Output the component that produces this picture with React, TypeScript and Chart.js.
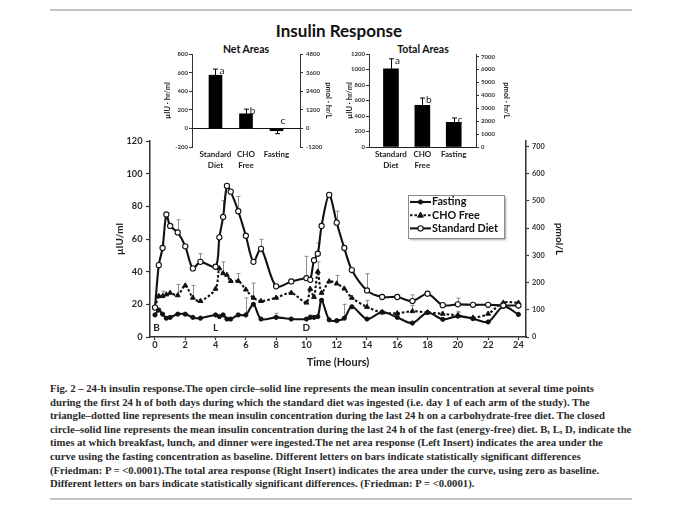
import React, { useEffect, useLayoutEffect, useRef, useState } from 'react';
import { Chart, registerables } from 'chart.js';

Chart.register(...registerables);

const FONT = 'Lato, "Open Sans", sans-serif';

// ---------- main chart data ----------
const HOURS = [0, 0.25, 0.5, 0.75, 1, 1.5, 2, 2.5, 3, 4, 4.25, 4.5, 4.75, 5, 5.5, 6, 6.5, 7, 8, 9, 10, 10.25, 10.5, 10.75, 11, 11.5, 12, 12.5, 13, 14, 15, 16, 17, 18, 19, 20, 21, 22, 23, 24];
const STANDARD_DIET = [18, 44, 54.5, 75, 68, 64, 55.5, 42, 46, 43, 61, 73.5, 92.5, 89, 77, 62, 46, 54, 31, 34, 36, 35, 47, 51, 68, 87, 70, 54.5, 41, 28.5, 24.5, 24.5, 22, 26.5, 19.5, 20, 19.7, 19.7, 19.3, 19.3];
const CHO_FREE = [18, 25, 25, 26, 27, 25.5, 31.5, 24, 22, 29.5, 42, 39, 38, 34.3, 34.3, 29, 24, 22, 24, 27, 21, 29.5, 24.5, 40, 27, 34, 32.7, 29.6, 24, 18.4, 15, 14.5, 15.8, 15, 14.2, 13.2, 11.8, 14.2, 21, 21];
const FASTING = [13.5, 16.5, 14, 11.5, 12, 14, 14, 12, 11.5, 13.5, 12.5, 13.5, 11, 11, 13.5, 13.5, 20, 11, 12, 11, 11, 12, 12, 12.5, 22.5, 10.5, 10, 11.5, 18.5, 11, 15.3, 12, 8.5, 15, 10.8, 12.8, 11.2, 9.2, 18.7, 13.8];
const STANDARD_ERR = [0, 0, 0, 0, 0, 7.8, 0, 0, 5, 0, 0, 10, 0, 0, 9, 0, 0, 5.8, 0, 0, 13.4, 0, 0, 6.5, 0, 0, 7, 0, 0, 10.3, 0, 0, 3.8, 0, 0, 3.8, 0, 0, 0, 0];
const CHO_ERR = [0, 0, 3, 0, 0, 6.7, 0, 7.6, 0, 0, 0, 7, 0, 0, 4.5, 0, 9, 0, 0, 0, 0, 0, 0, 6, 0, 0, 5, 0, 0, 4, 0, 0, 3.5, 0, 0, 2.5, 0, 0, 0, 0];
const FASTING_ERR = [0, 0, 0, 0, 0, 0, 0, 0, 0, 0, 0, 0, 0, 0, 0, 10.4, 0, 0, 2.5, 0, 0, 1.5, 0, 0, 0, 0, 0, 8.5, 0, 0, 0, 0, 0, 0, 0, 2, 0, 0, 0, 0];
const X_TICKS = [0, 2, 4, 6, 8, 10, 12, 14, 16, 18, 20, 22, 24];
const UIU_TICKS = [0, 20, 40, 60, 80, 100, 120];
const PMOL_TICKS = [0, 100, 200, 300, 400, 500, 600, 700];
const MEAL_LABELS = ['B', 'L', 'D'];
const MEAL_HOURS = [0.1, 4, 10];

// ---------- inset data ----------
const BAR_CATEGORIES = [['Standard', 'Diet'], ['CHO', 'Free'], ['Fasting']];
const BAR_POSITIONS = [0, 1, 2];
const SIG_LETTERS = ['a', 'b', 'c'];
const NET_AREAS = [572, 157, -25];
const NET_ERR = [66, 50, -32];
const NET_TICKS = [-200, 0, 200, 400, 600, 800];
const NET_PMOL_TICKS = [-1200, 0, 1200, 2400, 3600, 4800];
const TOTAL_AREAS = [1010, 538, 318];
const TOTAL_ERR = [128, 94, 56];
const TOTAL_TICKS = [0, 200, 400, 600, 800, 1000, 1200];
const TOTAL_PMOL_TICKS = [0, 1000, 2000, 3000, 4000, 5000, 6000, 7000];

const CAPTION_LINES = [
  'Fig. 2 \u2013 24-h insulin response.The open circle\u2013solid line represents the mean insulin concentration at several time points',
  'during the first 24 h of both days during which the standard diet was ingested (i.e. day 1 of each arm of the study). The',
  'triangle\u2013dotted line represents the mean insulin concentration during the last 24 h on a carbohydrate-free diet. The closed',
  'circle\u2013solid line represents the mean insulin concentration during the last 24 h of the fast (energy-free) diet. B, L, D, indicate the',
  'times at which breakfast, lunch, and dinner were ingested.The net area response (Left Insert) indicates the area under the',
  'curve using the fasting concentration as baseline. Different letters on bars indicate statistically significant differences',
  '(Friedman: P = <0.0001).The total area response (Right Insert) indicates the area under the curve, using zero as baseline.',
  'Different letters on bars indicate statistically significant differences. (Friedman: P = <0.0001).',
];

// ---------- plugins ----------
function drawErrors(chart: any, layer: string) {
  const ctx = chart.ctx;
  chart.data.datasets.forEach((ds: any, di: number) => {
    if (!ds.errorBars || (ds.errorLayer || 'above') !== layer) return;
    const meta = chart.getDatasetMeta(di);
    const yScale = chart.scales[meta.yAxisID];
    ctx.save();
    ctx.strokeStyle = ds.errorColor || '#000';
    ctx.lineWidth = ds.errorWidth || 1;
    ctx.setLineDash([]);
    ds.errorBars.forEach((err: number, i: number) => {
      if (!err) return;
      const el = meta.data[i];
      const raw = ds.data[i];
      const v = typeof raw === 'object' ? raw.y : raw;
      const x = Math.round(el.x) + 0.5;
      const y0 = yScale.getPixelForValue(v);
      const y1 = yScale.getPixelForValue(v + err);
      const c = ds.errorCap || 2;
      ctx.beginPath();
      ctx.moveTo(x, y0);
      ctx.lineTo(x, y1);
      ctx.moveTo(x - c, y1);
      ctx.lineTo(x + c, y1);
      ctx.stroke();
    });
    ctx.restore();
  });
}

const errorBarsPlugin = {
  id: 'errorBars',
  beforeDatasetsDraw(chart: any) { drawErrors(chart, 'below'); },
  afterDatasetsDraw(chart: any) { drawErrors(chart, 'above'); },
};

function drawMarker(ctx: any, style: string, x: number, y: number, r: number, fill: string, stroke: string, bw: number) {
  ctx.beginPath();
  if (style === 'triangle') {
    ctx.moveTo(x, y - r * 1.1);
    ctx.lineTo(x + r, y + r * 0.7);
    ctx.lineTo(x - r, y + r * 0.7);
    ctx.closePath();
  } else {
    ctx.arc(x, y, r, 0, Math.PI * 2);
  }
  ctx.fillStyle = fill;
  ctx.fill();
  ctx.lineWidth = bw;
  ctx.strokeStyle = stroke;
  ctx.stroke();
}

const boxLegendPlugin = {
  id: 'boxLegend',
  afterDraw(chart: any, _args: any, opts: any) {
    if (!opts || !opts.items) return;
    const ctx = chart.ctx;
    const { x, y, w, h } = opts;
    ctx.save();
    ctx.shadowColor = 'rgba(0,0,0,0.35)';
    ctx.shadowOffsetX = 1.5;
    ctx.shadowOffsetY = 1.5;
    ctx.shadowBlur = 2;
    ctx.fillStyle = '#fff';
    ctx.fillRect(x, y, w, h);
    ctx.shadowColor = 'transparent';
    ctx.strokeStyle = '#8a8a8a';
    ctx.lineWidth = 1;
    ctx.strokeRect(x + 0.5, y + 0.5, w, h);
    opts.items.forEach((di: number, k: number) => {
      const ds = chart.data.datasets[di];
      const cy = y + opts.firstRow + k * opts.rowH;
      const sx0 = x + opts.sampleX;
      const sx1 = sx0 + opts.sampleW;
      ctx.strokeStyle = ds.borderColor;
      ctx.lineWidth = ds.borderWidth;
      ctx.setLineDash(ds.borderDash || []);
      ctx.beginPath();
      ctx.moveTo(sx0, cy);
      ctx.lineTo(sx1, cy);
      ctx.stroke();
      ctx.setLineDash([]);
      drawMarker(ctx, ds.pointStyle, (sx0 + sx1) / 2, cy, ds.pointRadius, ds.pointBackgroundColor, ds.pointBorderColor, ds.pointBorderWidth);
      ctx.fillStyle = '#111';
      ctx.font = `bold ${opts.fontSize}px ${FONT}`;
      ctx.textBaseline = 'middle';
      ctx.textAlign = 'left';
      ctx.fillText(ds.label, x + opts.textX, cy);
    });
    ctx.restore();
  },
};

const mealLabelsPlugin = {
  id: 'mealLabels',
  afterDatasetsDraw(chart: any, _args: any, opts: any) {
    if (!opts || !opts.labels) return;
    const ctx = chart.ctx;
    ctx.save();
    ctx.font = `bold 10px ${FONT}`;
    ctx.fillStyle = '#222';
    ctx.textAlign = 'center';
    ctx.textBaseline = 'middle';
    opts.labels.forEach((t: string, i: number) => {
      ctx.fillText(t, chart.scales.x.getPixelForValue(opts.hours[i]), chart.scales.y.getPixelForValue(opts.level));
    });
    ctx.restore();
  },
};

const barLettersPlugin = {
  id: 'barLetters',
  afterDatasetsDraw(chart: any, _args: any, opts: any) {
    if (!opts || !opts.letters) return;
    const ctx = chart.ctx;
    const ds = chart.data.datasets[0];
    const meta = chart.getDatasetMeta(0);
    const ys = chart.scales.y;
    ctx.save();
    ctx.font = `10px ${FONT}`;
    ctx.fillStyle = '#222';
    ctx.textAlign = 'center';
    ctx.textBaseline = 'middle';
    opts.letters.forEach((L: string, i: number) => {
      const v = ds.data[i].y;
      const top = Math.max(v + ds.errorBars[i], v, 0);
      const py = ys.getPixelForValue(top) + (top > 0 ? 1.5 : -7.5);
      ctx.fillText(L, meta.data[i].x + 6.5, py);
    });
    ctx.restore();
  },
};

const PLUGINS = [errorBarsPlugin, boxLegendPlugin, mealLabelsPlugin, barLettersPlugin];

// ---------- configs ----------
const tickFont = (size: number, bold = true) => ({ family: FONT, size, weight: bold ? 'bold' : 'normal' });
const plain = (v: number) => String(v);

function mainConfig(): any {
  const pts = (arr: number[]) => HOURS.map((h, i) => ({ x: h, y: arr[i] }));
  return {
    type: 'line',
    data: {
      datasets: [
        {
          label: 'Standard Diet', data: pts(STANDARD_DIET), borderColor: '#111', borderWidth: 2.1,
          pointStyle: 'circle', pointRadius: 2.6, pointBackgroundColor: '#fff', pointBorderColor: '#111', pointBorderWidth: 1.1,
          tension: 0.3, clip: false, errorBars: STANDARD_ERR, errorColor: '#8c8c8c', errorLayer: 'below',
        },
        {
          label: 'CHO Free', data: pts(CHO_FREE), borderColor: '#111', borderWidth: 2.1, borderDash: [2.5, 2],
          pointStyle: 'triangle', pointRadius: 2.8, pointBackgroundColor: '#111', pointBorderColor: '#111', pointBorderWidth: 1,
          tension: 0.3, clip: false, errorBars: CHO_ERR, errorColor: '#8c8c8c', errorLayer: 'below',
        },
        {
          label: 'Fasting', data: pts(FASTING), borderColor: '#111', borderWidth: 2.1,
          pointStyle: 'circle', pointRadius: 2.1, pointBackgroundColor: '#111', pointBorderColor: '#111', pointBorderWidth: 1,
          tension: 0.3, clip: false, errorBars: FASTING_ERR, errorColor: '#8c8c8c', errorLayer: 'below',
        },
      ],
    },
    options: {
      responsive: false, maintainAspectRatio: false, animation: false,
      layout: { padding: { top: 16, left: 0, right: 0, bottom: 0 } },
      plugins: {
        legend: { display: false }, tooltip: { enabled: false },
        boxLegend: { items: [2, 1, 0], x: 313, y: 70, w: 96, h: 43, firstRow: 7, rowH: 13.2, sampleX: 2, sampleW: 21, textX: 24, fontSize: 10.8 },
        mealLabels: { labels: MEAL_LABELS, hours: MEAL_HOURS, level: 5.5 },
      },
      scales: {
        x: {
          type: 'linear', min: -0.33, max: 24.5,
          afterBuildTicks: (s: any) => { s.ticks = X_TICKS.map((v) => ({ value: v })); },
          afterFit: (s: any) => { s.height = 38; },
          grid: { drawOnChartArea: false, drawTicks: true, tickLength: 3, color: '#333', tickColor: '#333', tickWidth: 1.2 },
          border: { display: true, color: '#333', width: 1.5 },
          ticks: { padding: 0, color: '#2a2a2a', font: tickFont(9.2), maxRotation: 0, autoSkip: false, callback: plain },
          title: { display: true, text: 'Time (Hours)', color: '#222', font: tickFont(11), padding: { top: 0, bottom: 6 } },
        },
        y: {
          position: 'left', min: 0, max: 120,
          afterBuildTicks: (s: any) => { s.ticks = UIU_TICKS.map((v) => ({ value: v })); },
          afterFit: (s: any) => { s.width = 55; },
          grid: { drawOnChartArea: false, drawTicks: true, tickLength: 4, color: '#333', tickColor: '#333', tickWidth: 1.2 },
          border: { display: true, color: '#333', width: 1.5 },
          ticks: { padding: 3.5, color: '#2a2a2a', font: tickFont(9.2), callback: plain },
          title: { display: true, text: '\u00b5IU/ml', color: '#222', font: tickFont(10), padding: { top: 19, bottom: 0 } },
        },
        y2: {
          position: 'right', min: 0, max: 720,
          afterBuildTicks: (s: any) => { s.ticks = PMOL_TICKS.map((v) => ({ value: v })); },
          afterFit: (s: any) => { s.width = 59; },
          grid: { drawOnChartArea: false, drawTicks: true, tickLength: 3, color: '#333', tickColor: '#333', tickWidth: 1.2 },
          border: { display: true, color: '#333', width: 1.5 },
          ticks: { padding: 3, color: '#333', font: tickFont(7.3), callback: plain },
          title: { display: true, text: 'pmol/L', color: '#222', font: tickFont(10), padding: { top: 20, bottom: 0 } },
        },
      },
    },
    plugins: PLUGINS,
  };
}

function insetConfig(p: {
  values: number[]; errors: number[]; ticks: number[]; pmolTicks: number[]; min: number; max: number;
  xMin: number; xMax: number; barW: number; rightW: number; leftTitlePad: number; rightTitlePad: number;
  rightTickPad: number; zeroLine: boolean;
}): any {
  return {
    type: 'bar',
    data: {
      datasets: [{
        label: 'area', data: p.values.map((v, i) => ({ x: BAR_POSITIONS[i], y: v })), backgroundColor: '#000',
        barThickness: p.barW, errorBars: p.errors, errorColor: '#000', errorLayer: 'above', errorCap: 2.5,
      }],
    },
    options: {
      responsive: false, maintainAspectRatio: false, animation: false,
      layout: { padding: { top: 14, left: 0, right: 0, bottom: 0 } },
      plugins: { legend: { display: false }, tooltip: { enabled: false }, barLetters: { letters: SIG_LETTERS } },
      scales: {
        x: {
          type: 'linear', min: p.xMin, max: p.xMax, offset: false,
          afterBuildTicks: (s: any) => { s.ticks = BAR_POSITIONS.map((v) => ({ value: v })); },
          afterFit: (s: any) => { s.height = 28; },
          grid: { display: false, drawTicks: false, offset: false },
          border: { display: !p.zeroLine, color: '#222', width: 1 },
          ticks: {
            padding: 2, autoSkip: false, maxRotation: 0, color: '#222',
            font: { family: FONT, size: 8, weight: 'bold', lineHeight: 1.35 },
            callback: (v: number) => BAR_CATEGORIES[v],
          },
        },
        y: {
          position: 'left', min: p.min, max: p.max,
          afterBuildTicks: (s: any) => { s.ticks = p.ticks.map((v) => ({ value: v })); },
          afterFit: (s: any) => { s.width = 32; },
          grid: {
            drawOnChartArea: p.zeroLine, drawTicks: true, tickLength: 3, tickColor: '#333', lineWidth: 1,
            color: (c: any) => (c.tick && c.tick.value === 0 ? '#111' : 'rgba(0,0,0,0)'),
          },
          border: { display: true, color: '#333', width: 1 },
          ticks: { padding: 1, color: '#333', font: tickFont(6), callback: plain },
          title: { display: true, text: '\u00b5IU \u00b7 hr/ml', color: '#222', font: tickFont(7.5), padding: { top: p.leftTitlePad, bottom: 0 } },
        },
        y2: {
          position: 'right', min: p.min * 6, max: p.max * 6,
          afterBuildTicks: (s: any) => { s.ticks = p.pmolTicks.map((v) => ({ value: v })); },
          afterFit: (s: any) => { s.width = p.rightW; },
          grid: { drawOnChartArea: false, drawTicks: true, tickLength: 3, color: '#333', tickColor: '#333' },
          border: { display: true, color: '#333', width: 1 },
          ticks: { padding: p.rightTickPad, color: '#333', font: tickFont(6), callback: plain },
          title: { display: true, text: 'pmol \u00b7 hr/L', color: '#222', font: tickFont(7.5), padding: { top: p.rightTitlePad, bottom: 0 } },
        },
      },
    },
    plugins: PLUGINS,
  };
}

// ---------- components ----------
function ChartBox(props: { left: number; top: number; width: number; height: number; config: () => any }) {
  const ref = useRef<HTMLCanvasElement>(null);
  useEffect(() => {
    const chart = new Chart(ref.current as HTMLCanvasElement, props.config());
    return () => chart.destroy();
  }, []);
  return (
    <div style={{ position: 'absolute', left: props.left, top: props.top, width: props.width, height: props.height }}>
      <canvas ref={ref} width={props.width} height={props.height} style={{ display: 'block', width: props.width, height: props.height }} />
    </div>
  );
}

function Label(props: { x: number; y: number; size: number; text: string; weight?: string }) {
  return (
    <div style={{
      position: 'absolute', left: props.x, top: props.y, transform: 'translate(-50%, -50%)',
      font: `${props.weight || 'bold'} ${props.size}px ${FONT}`, color: '#111', whiteSpace: 'nowrap', lineHeight: 1,
    }}>{props.text}</div>
  );
}

function Caption() {
  const ref = useRef<HTMLDivElement>(null);
  const [k, setK] = useState(1);
  useLayoutEffect(() => {
    const el = ref.current;
    if (!el) return;
    let max = 0;
    el.querySelectorAll('span').forEach((s: any) => { max = Math.max(max, s.offsetWidth); });
    if (max > 0) setK(581 / max);
  }, []);
  return (
    <div ref={ref}>
      {CAPTION_LINES.map((line, i) => (
        <div key={i} style={{
          position: 'absolute', left: 50, top: 382 + i * 13.6, height: 13.6, lineHeight: '13.6px',
          whiteSpace: 'nowrap', transform: `scaleX(${k})`, transformOrigin: '0 50%',
          font: 'bold 11px "Liberation Serif", serif', color: '#2a2a2a',
        }}><span>{line}</span></div>
      ))}
    </div>
  );
}

export default function App() {
  return (
    <div style={{ position: 'absolute', left: 0, top: 0, width: 680, height: 512, background: '#fff', overflow: 'hidden' }}>
      <div style={{ position: 'absolute', left: 50, top: 9, width: 582, height: 2, background: '#c4c4c4' }} />
      <Label x={339} y={30} size={17} text="Insulin Response" />
      <Label x={246} y={49} size={10.5} text="Net Areas" />
      <Label x={423} y={49} size={10.5} text="Total Areas" />
      <ChartBox left={160} top={40} width={175} height={135} config={() => insetConfig({
        values: NET_AREAS, errors: NET_ERR, ticks: NET_TICKS, pmolTicks: NET_PMOL_TICKS, min: -200, max: 800,
        xMin: -0.77, xMax: 2.77, barW: 13, rightW: 35, leftTitlePad: 3.5, rightTitlePad: 2.5, rightTickPad: 3, zeroLine: true,
      })} />
      <ChartBox left={337} top={40} width={178} height={135} config={() => insetConfig({
        values: TOTAL_AREAS, errors: TOTAL_ERR, ticks: TOTAL_TICKS, pmolTicks: TOTAL_PMOL_TICKS, min: 0, max: 1200,
        xMin: -0.7, xMax: 2.71, barW: 15, rightW: 39, leftTitlePad: 8.5, rightTitlePad: 3.8, rightTickPad: 2, zeroLine: false,
      })} />
      <ChartBox left={95} top={125} width={490} height={250} config={mainConfig} />
      <Caption />
      <div style={{ position: 'absolute', left: 50, top: 498, width: 582, height: 2, background: '#c4c4c4' }} />
    </div>
  );
}
